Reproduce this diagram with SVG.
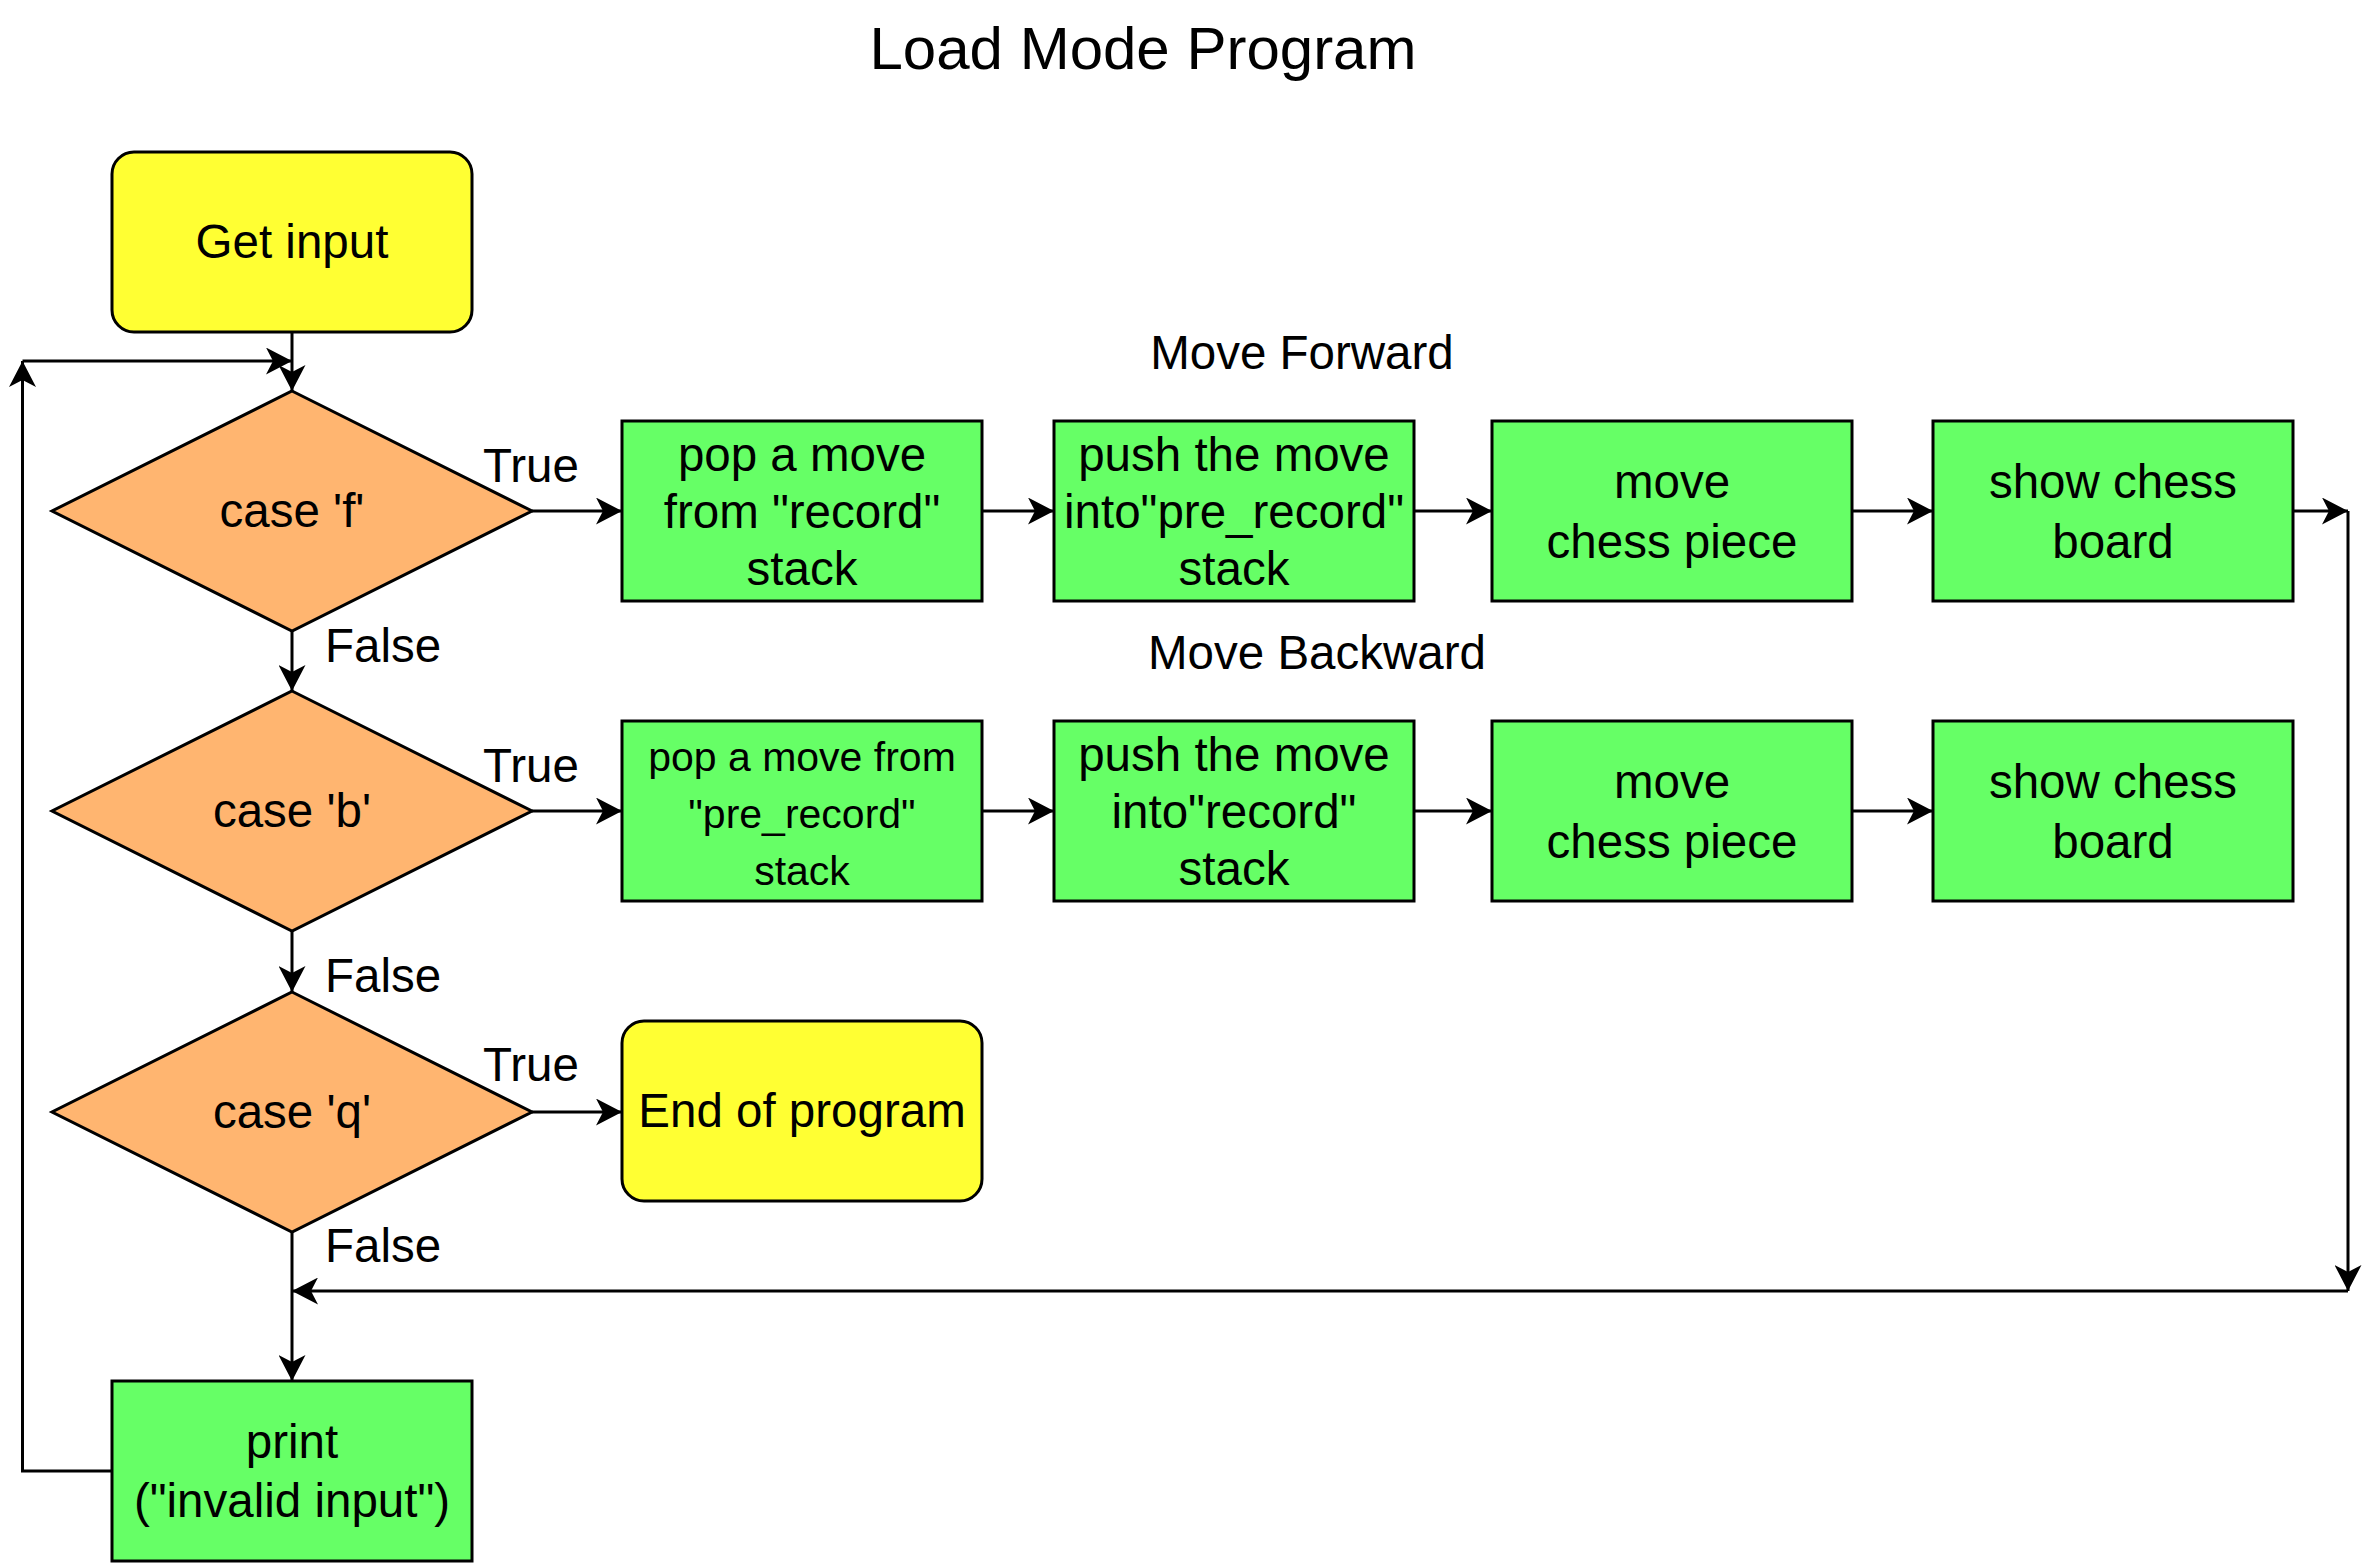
<svg xmlns="http://www.w3.org/2000/svg" width="2379" height="1563" viewBox="0 0 2379 1563">
<defs>
<style>
text{font-family:"Liberation Sans",Arial,sans-serif;fill:#000;text-anchor:middle;font-size:47.5px}
.lbl{text-anchor:start}
.yel{fill:#FFFF33;stroke:#000;stroke-width:3}
.grn{fill:#66FF66;stroke:#000;stroke-width:3}
.dia{fill:#FFB570;stroke:#000;stroke-width:3}
.edge{fill:none;stroke:#000;stroke-width:3;marker-end:url(#arr)}
</style>
<marker id="arr" markerUnits="userSpaceOnUse" viewBox="0 0 26 27" markerWidth="26" markerHeight="27" refX="26" refY="13.5" orient="auto">
<path d="M26,13.5 L0,0 L7,13.5 L0,27 Z" fill="#000"/>
</marker>
</defs>
<rect width="2379" height="1563" fill="#fff"/>
<text x="1143" y="69" style="font-size:60px">Load Mode Program</text>
<text x="1302" y="369">Move Forward</text>
<text x="1317" y="669">Move Backward</text>

<g id="connectors">
<path class="edge" d="M292,332 V391"/>
<path class="edge" d="M112,1471 H22.5 V361"/>
<path class="edge" d="M22.5,361 H292"/>
<path class="edge" d="M532,511 H622"/>
<path class="edge" d="M982,511 H1054"/>
<path class="edge" d="M1414,511 H1492"/>
<path class="edge" d="M1852,511 H1933"/>
<path class="edge" d="M2293,511 H2348"/>
<path class="edge" d="M2348,511 V1291"/>
<path class="edge" d="M2348,1291 H292"/>
<path class="edge" d="M292,631 V691"/>
<path class="edge" d="M532,811 H622"/>
<path class="edge" d="M982,811 H1054"/>
<path class="edge" d="M1414,811 H1492"/>
<path class="edge" d="M1852,811 H1933"/>
<path class="edge" d="M292,931 V992"/>
<path class="edge" d="M532,1112 H622"/>
<path class="edge" d="M292,1232 V1381"/>
<text class="lbl" x="483" y="482">True</text>
<text class="lbl" x="483" y="782">True</text>
<text class="lbl" x="483" y="1081">True</text>
<text class="lbl" x="325" y="662">False</text>
<text class="lbl" x="325" y="992">False</text>
<text class="lbl" x="325" y="1262">False</text>
</g>

<g id="get-input">
<rect class="yel" x="112" y="152" width="360" height="180" rx="22"/>
<text x="292" y="258">Get input</text>
</g>
<g id="case-f">
<polygon class="dia" points="292,391 532,511 292,631 52,511"/>
<text x="292" y="527">case 'f'</text>
</g>
<g id="case-b">
<polygon class="dia" points="292,691 532,811 292,931 52,811"/>
<text x="292" y="827">case 'b'</text>
</g>
<g id="case-q">
<polygon class="dia" points="292,992 532,1112 292,1232 52,1112"/>
<text x="292" y="1128">case 'q'</text>
</g>

<g id="f-pop">
<rect class="grn" x="622" y="421" width="360" height="180"/>
<text x="802" y="471">pop a move</text>
<text x="802" y="528">from "record"</text>
<text x="802" y="585">stack</text>
</g>
<g id="f-push">
<rect class="grn" x="1054" y="421" width="360" height="180"/>
<text x="1234" y="471">push the move</text>
<text x="1234" y="528">into"pre_record"</text>
<text x="1234" y="585">stack</text>
</g>
<g id="f-move">
<rect class="grn" x="1492" y="421" width="360" height="180"/>
<text x="1672" y="498">move</text>
<text x="1672" y="558">chess piece</text>
</g>
<g id="f-show">
<rect class="grn" x="1933" y="421" width="360" height="180"/>
<text x="2113" y="498">show chess</text>
<text x="2113" y="558">board</text>
</g>

<g id="b-pop">
<rect class="grn" x="622" y="721" width="360" height="180"/>
<text x="802" y="771" style="font-size:41px">pop a move from</text>
<text x="802" y="828" style="font-size:41px">"pre_record"</text>
<text x="802" y="885" style="font-size:41px">stack</text>
</g>
<g id="b-push">
<rect class="grn" x="1054" y="721" width="360" height="180"/>
<text x="1234" y="771">push the move</text>
<text x="1234" y="828">into"record"</text>
<text x="1234" y="885">stack</text>
</g>
<g id="b-move">
<rect class="grn" x="1492" y="721" width="360" height="180"/>
<text x="1672" y="798">move</text>
<text x="1672" y="858">chess piece</text>
</g>
<g id="b-show">
<rect class="grn" x="1933" y="721" width="360" height="180"/>
<text x="2113" y="798">show chess</text>
<text x="2113" y="858">board</text>
</g>

<g id="end-program">
<rect class="yel" x="622" y="1021" width="360" height="180" rx="22"/>
<text x="802" y="1127">End of program</text>
</g>
<g id="print-invalid">
<rect class="grn" x="112" y="1381" width="360" height="180"/>
<text x="292" y="1458">print</text>
<text x="292" y="1517">("invalid input")</text>
</g>
</svg>
